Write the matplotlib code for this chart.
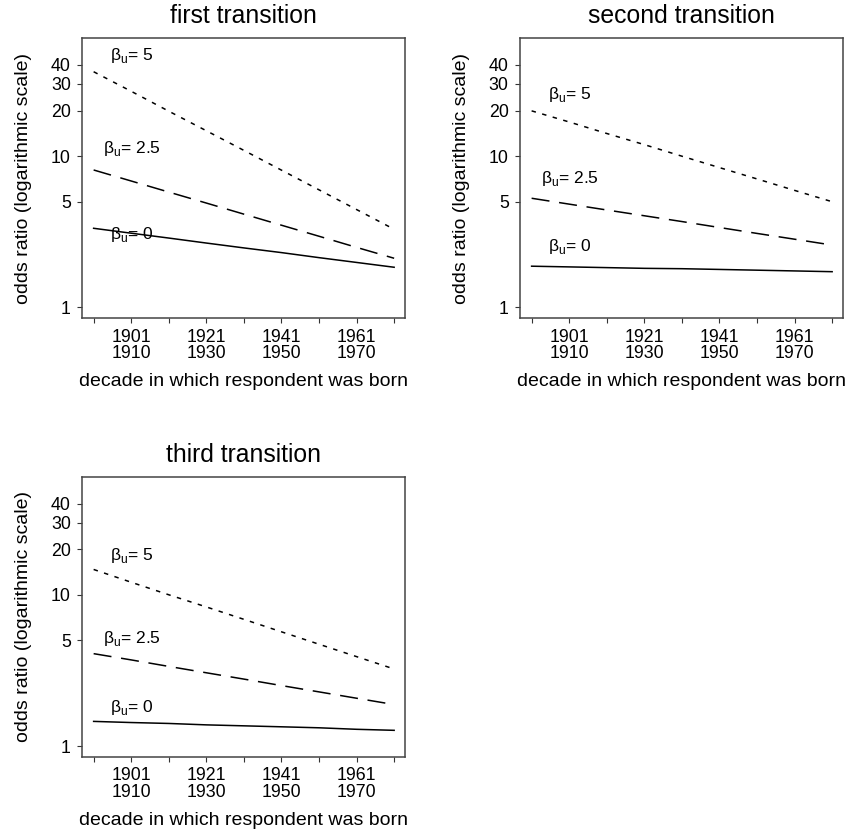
import numpy as np
import matplotlib
matplotlib.use("Agg")
import matplotlib.pyplot as plt
from matplotlib.ticker import FixedLocator, NullLocator

plt.rcParams["font.family"] = ["Liberation Sans", "DejaVu Sans"]
plt.rcParams["mathtext.fontset"] = "custom"
plt.rcParams["mathtext.rm"] = "Liberation Sans"
plt.rcParams["lines.scale_dashes"] = False

# ----------------------------------------------------------------------
# dados (odds ratio por decada de nascimento)
decades = ["1891-1900", "1901-1910", "1911-1920", "1921-1930", "1931-1940",
           "1941-1950", "1951-1960", "1961-1970", "1971-1980"]
tick_labels = ["", "1901\n1910", "", "1921\n1930", "",
               "1941\n1950", "", "1961\n1970", ""]
y_ticks = [1, 5, 10, 20, 30, 40]

titles = ["first transition", "second transition", "third transition"]

first_b5 = [36.1, 26.8, 19.8, 14.7, 10.9, 8.07, 5.98, 4.43, 3.28]
first_b25 = [8.09, 6.84, 5.78, 4.89, 4.13, 3.49, 2.95, 2.49, 2.11]
first_b0 = [3.33, 3.09, 2.87, 2.66, 2.47, 2.30, 2.13, 1.98, 1.84]

second_b5 = [19.9, 16.8, 14.1, 11.9, 9.98, 8.39, 7.06, 5.93, 4.99]
second_b25 = [5.26, 4.81, 4.40, 4.03, 3.69, 3.37, 3.08, 2.82, 2.58]
second_b0 = [1.87, 1.85, 1.83, 1.81, 1.80, 1.78, 1.76, 1.74, 1.72]

third_b5 = [14.7, 12.1, 10.0, 8.31, 6.88, 5.69, 4.71, 3.90, 3.23]
third_b25 = [4.08, 3.71, 3.36, 3.05, 2.77, 2.51, 2.28, 2.07, 1.88]
third_b0 = [1.455, 1.43, 1.41, 1.38, 1.36, 1.34, 1.32, 1.29, 1.27]

beta_labels = ["5", "2.5", "0"]
# ----------------------------------------------------------------------

# posicao dos rotulos (x em indice de decada, y em odds ratio)
label_pos = [
    [(0.43, 45.9), (0.25, 11.3), (0.43, 3.05)],
    [(0.44, 25.4), (0.24, 7.13), (0.44, 2.54)],
    [(0.43, 18.2), (0.25, 5.13), (0.43, 1.81)],
]
styles = [
    dict(dashes=(3.2, 4.7)),   # pontilhado
    dict(dashes=(13, 7)),      # tracejado
    dict(linestyle="-"),       # continuo
]
axes_rect = [
    [0.0968, 0.6178, 0.3814, 0.3365],
    [0.6139, 0.6178, 0.3814, 0.3365],
    [0.0968, 0.0905, 0.3814, 0.3365],
]
series = [
    [first_b5, first_b25, first_b0],
    [second_b5, second_b25, second_b0],
    [third_b5, third_b25, third_b0],
]

fig = plt.figure(figsize=(8.47, 8.32), dpi=100)
x = np.arange(len(decades))

for p in range(3):
    ax = fig.add_axes(axes_rect[p])
    for s in range(3):
        ax.plot(x, series[p][s], color="black", lw=1.1, **styles[s])
        lx, ly = label_pos[p][s]
        ax.text(lx, ly, "β$_{\\mathrm{u}}$= " + beta_labels[s],
                fontsize=12.5, ha="left", va="center")

    ax.set_yscale("log")
    ax.set_ylim(0.85, 60.3)
    ax.set_xlim(-0.31, 8.29)
    ax.yaxis.set_major_locator(FixedLocator(y_ticks))
    ax.yaxis.set_minor_locator(NullLocator())
    ax.set_yticklabels([str(v) for v in y_ticks])
    ax.set_xticks(x)
    ax.set_xticklabels(tick_labels, linespacing=0.95)
    ax.tick_params(axis="both", direction="out", length=3.6, width=0.8,
                   labelsize=12.8, color="#333333")
    ax.tick_params(axis="y", pad=4.5)
    ax.tick_params(axis="x", pad=4.0)
    for sp in ax.spines.values():
        sp.set_color("#444444")
        sp.set_linewidth(1.1)

    ax.set_title(titles[p], fontsize=17.8, pad=10.6)
    ax.set_xlabel("decade in which respondent was born", fontsize=14, labelpad=8)
    ax.set_ylabel("odds ratio (logarithmic scale)", fontsize=14, labelpad=13.5)

fig.savefig("out.png", dpi=100)
